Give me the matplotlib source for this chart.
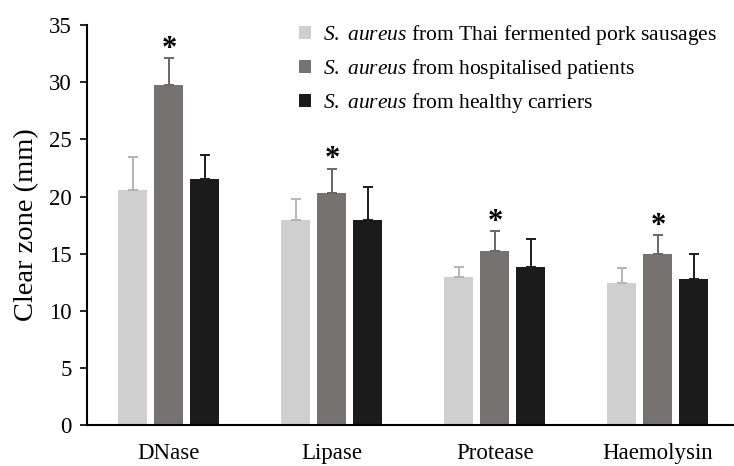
import numpy as np
import matplotlib
matplotlib.use("Agg")
import matplotlib.pyplot as plt

plt.rcParams['font.family'] = ['Liberation Serif', 'DejaVu Serif']
plt.rcParams['mathtext.fontset'] = 'custom'
plt.rcParams['mathtext.rm'] = 'Liberation Serif'
plt.rcParams['mathtext.it'] = 'Liberation Serif:italic'

categories = ['DNase', 'Lipase', 'Protease', 'Haemolysin']
series_names = [r'$S.\ aureus$ from Thai fermented pork sausages',
                r'$S.\ aureus$ from hospitalised patients',
                r'$S.\ aureus$ from healthy carriers']

# mean clear zone (mm)
sausage = [20.6, 17.95, 12.95, 12.45]
hospital = [29.75, 20.35, 15.2, 15.0]
carrier = [21.55, 17.95, 13.8, 12.8]

# upper error bar tops -> SD
sausage_sd = [2.9, 1.8, 0.85, 1.3]
hospital_sd = [2.35, 2.1, 1.75, 1.6]
carrier_sd = [2.05, 2.85, 2.45, 2.2]

significant = [True, True, True, True]  # hospital vs others

colors = ['#cfcfcf', '#767272', '#1b1b1b']
err_colors = ['#b4b4b4', '#6a6666', '#1b1b1b']

fig = plt.figure(figsize=(7.34, 4.66), dpi=100)
ax = fig.add_axes([0.1185, 0.088, 0.88, 0.858])

x = np.arange(len(categories))
width = 0.178
offset = 0.221

for k, (vals, sds) in enumerate([(sausage, sausage_sd), (hospital, hospital_sd), (carrier, carrier_sd)]):
    pos = x + (k - 1) * offset
    ax.bar(pos, vals, width, color=colors[k], label=series_names[k], zorder=2)
    ax.errorbar(pos, vals, yerr=[np.zeros(len(vals)), sds], fmt='none',
                ecolor=err_colors[k], elinewidth=1.4, capsize=3.5, capthick=1.4, zorder=3)

for i, sig in enumerate(significant):
    if sig:
        top = hospital[i] + hospital_sd[i]
        ax.text(x[i], top + 0.8, '*', ha='center', va='center', fontsize=22, fontweight='bold')

ax.set_xlim(-0.503, 3.46)
ax.set_ylim(0, 35)
ax.set_yticks(range(0, 36, 5))
ax.set_xticks(x)
ax.set_xticklabels(categories, fontsize=16.5)
ax.tick_params(axis='x', length=0, pad=13)
ax.tick_params(axis='y', labelsize=16.5, length=5, width=1.2, direction='out', pad=6)
ax.set_ylabel('Clear zone (mm)', fontsize=20.5, labelpad=7)

for s in ['top', 'right']:
    ax.spines[s].set_visible(False)
for s in ['left', 'bottom']:
    ax.spines[s].set_linewidth(1.5)

ax.legend(loc='upper left', bbox_to_anchor=(0.315, 1.027), frameon=False,
          fontsize=15.5, handlelength=0.55, handleheight=0.55, handletextpad=0.55,
          labelspacing=0.47, borderaxespad=0)

fig.savefig('out.png', dpi=100)
